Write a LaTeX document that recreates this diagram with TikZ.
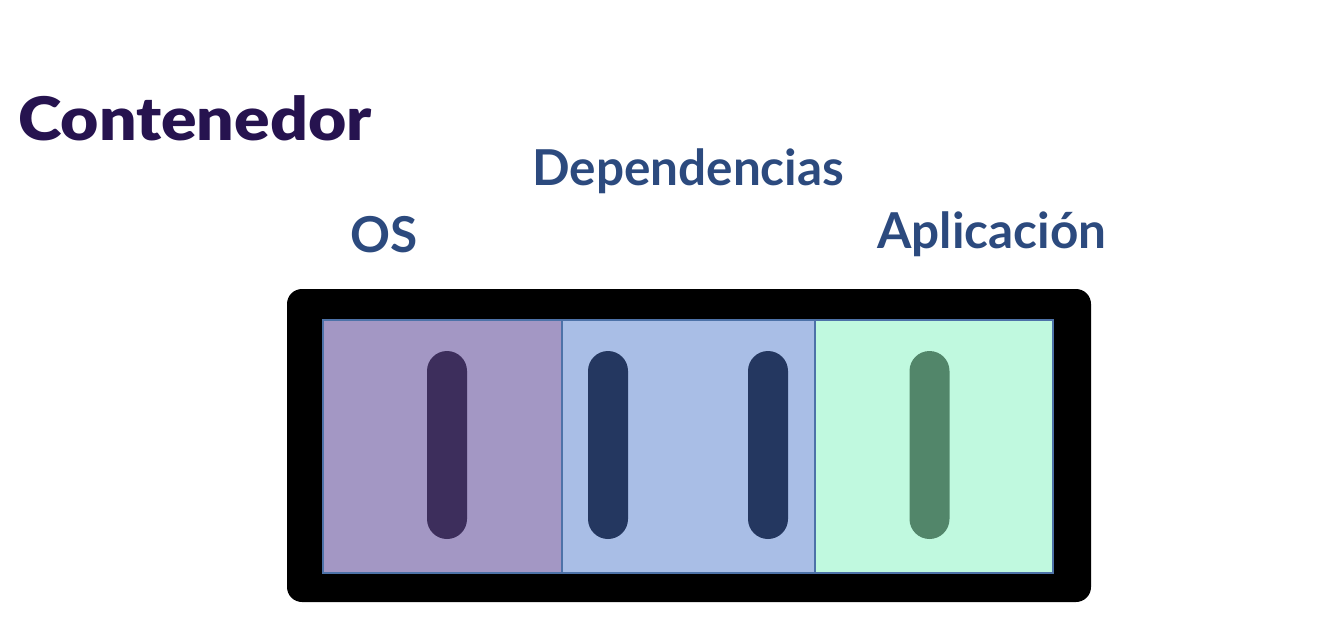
\documentclass[tikz,border=0pt]{standalone}
\usepackage{fontspec}
\setmainfont{Lato}
\newfontfamily\titlefont{Lato Black}[FakeStretch=1.1]
\definecolor{titlec}{HTML}{26134F}
\definecolor{labelc}{HTML}{2C4A7E}
\definecolor{osfill}{HTML}{A397C4}
\definecolor{ospill}{HTML}{3D2E5C}
\definecolor{depfill}{HTML}{A9BEE6}
\definecolor{deppill}{HTML}{243760}
\definecolor{appfill}{HTML}{C0F9DF}
\definecolor{apppill}{HTML}{52866A}
\definecolor{edgec}{HTML}{4D72A8}
\tikzset{
  label text/.style={anchor=base west, inner sep=0pt, text=labelc, font=\fontsize{49.5}{60}\selectfont\bfseries},
  section/.style={draw=edgec, line width=1.2pt},
  pill/.style={rounded corners=20pt, minimum width=40pt, minimum height=188pt, inner sep=0pt, draw=none},
}
\begin{document}
\begin{tikzpicture}[x=1pt,y=-1pt]
\useasboundingbox (0,0) rectangle (1336,624);
\node[anchor=base west, inner sep=0pt, text=titlec, font=\titlefont\fontsize{60}{70}\selectfont] (title) at (18,140) {Contenedor};
\node[label text] (os) at (350,252) {OS};
\node[label text] (dep) at (532,185) {Dependencias};
\node[label text] (app) at (877,248) {Aplicación};
\fill[black, rounded corners=15pt] (287,289) rectangle (1091,602);
\filldraw[section, fill=osfill] (323,320) rectangle (562,573);
\filldraw[section, fill=depfill] (562,320) rectangle (815,573);
\filldraw[section, fill=appfill] (815,320) rectangle (1053,573);
\node[pill, fill=ospill] (p1) at (447,445) {};
\node[pill, fill=deppill] (p2) at (608,445) {};
\node[pill, fill=deppill] (p3) at (768,445) {};
\node[pill, fill=apppill] (p4) at (929.5,445) {};
\end{tikzpicture}
\end{document}
